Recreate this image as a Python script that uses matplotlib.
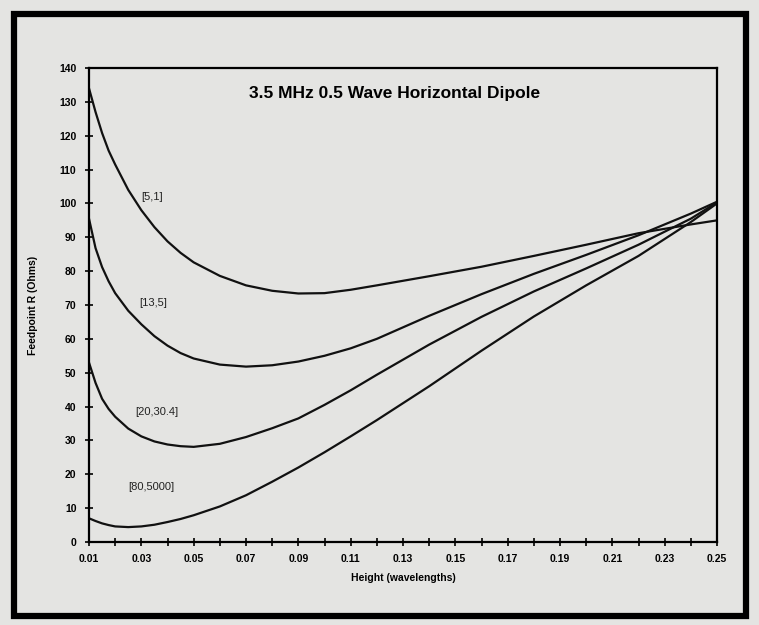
import numpy as np
import matplotlib
matplotlib.use('Agg')
import matplotlib.pyplot as plt
from matplotlib.patches import Rectangle
from matplotlib.ticker import MultipleLocator, FixedLocator

plt.rcParams['font.family'] = ['Liberation Sans Narrow', 'Liberation Sans', 'DejaVu Sans']

# height in wavelengths
height = [0.01, 0.0125, 0.015, 0.0175, 0.02, 0.025, 0.03, 0.035, 0.04, 0.045,
          0.05, 0.06, 0.07, 0.08, 0.09, 0.10, 0.11, 0.12, 0.14, 0.16,
          0.18, 0.20, 0.22, 0.24, 0.25]

# feedpoint resistance (ohms) for each ground type
r_5_1 = [134, 127, 120.8, 115.6, 111.5, 104, 98, 93, 88.8, 85.4,
         82.6, 78.6, 75.8, 74.2, 73.4, 73.5, 74.5, 75.8, 78.5, 81.3,
         84.5, 87.8, 91.2, 93.8, 95]
r_13_5 = [95.5, 86.8, 81.2, 77, 73.5, 68.3, 64.3, 60.8, 58, 55.8,
          54.2, 52.4, 51.8, 52.2, 53.3, 55, 57.2, 60, 66.8, 73.2,
          79.2, 84.8, 90.6, 97, 100.5]
r_20_30 = [53, 47, 42.3, 39.3, 37, 33.5, 31.2, 29.7, 28.8, 28.3,
           28.1, 29, 31, 33.6, 36.5, 40.5, 44.8, 49.4, 58.3, 66.5,
           74, 80.8, 87.8, 95.5, 100.3]
r_80_5000 = [7, 6.2, 5.5, 5, 4.6, 4.4, 4.6, 5.1, 5.9, 6.8,
             7.9, 10.5, 13.8, 17.8, 22, 26.5, 31.2, 36, 46, 56.5,
             66.6, 75.8, 84.5, 94.5, 100]

series = [r_5_1, r_13_5, r_20_30, r_80_5000]
labels = ['[5,1]', '[13,5]', '[20,30.4]', '[80,5000]']
label_pos = [(0.034, 102), (0.0345, 70.6), (0.036, 38.4), (0.034, 16.2)]

bg = '#e4e4e2'
fig = plt.figure(figsize=(7.59, 6.25), dpi=100, facecolor=bg)

# thick outer frame of the scanned figure
fig.patches.append(Rectangle((14 / 759, 1 - 616 / 625), 732 / 759, 602 / 625,
                             transform=fig.transFigure, fill=False,
                             edgecolor='black', linewidth=4.5))

ax = fig.add_axes([89 / 759, 1 - 542 / 625, 628 / 759, 474 / 625])
ax.set_facecolor(bg)

for r in series:
    ax.plot(height, r, color='#111111', linewidth=1.6)

for lab, (x, y) in zip(labels, label_pos):
    ax.text(x, y, lab, fontsize=8, ha='center', va='center', color='#222222')

ax.text(0.1266, 132.6, '3.5 MHz 0.5 Wave Horizontal Dipole', fontsize=12.5,
        fontweight='bold', ha='center', va='center')

ax.set_xlim(0.01, 0.25)
ax.set_ylim(0, 140)
ax.xaxis.set_major_locator(FixedLocator(np.arange(0.01, 0.2501, 0.02)))
ax.xaxis.set_minor_locator(FixedLocator(np.arange(0.02, 0.2401, 0.02)))
ax.yaxis.set_major_locator(MultipleLocator(10))
ax.xaxis.set_major_formatter(plt.FuncFormatter(lambda v, p: f'{v:.2f}'))

ax.tick_params(which='both', direction='inout', length=6, width=1.2,
               labelsize=7.5, pad=6)
for lab in ax.get_xticklabels() + ax.get_yticklabels():
    lab.set_fontweight('bold')
for s in ax.spines.values():
    s.set_linewidth(1.6)

ax.set_xlabel('Height (wavelengths)', fontsize=7.5, fontweight='bold', labelpad=6)
ax.set_ylabel('Feedpoint R (Ohms)', fontsize=7.5, fontweight='bold', labelpad=15)

fig.savefig('out.png', dpi=100, facecolor=bg)
